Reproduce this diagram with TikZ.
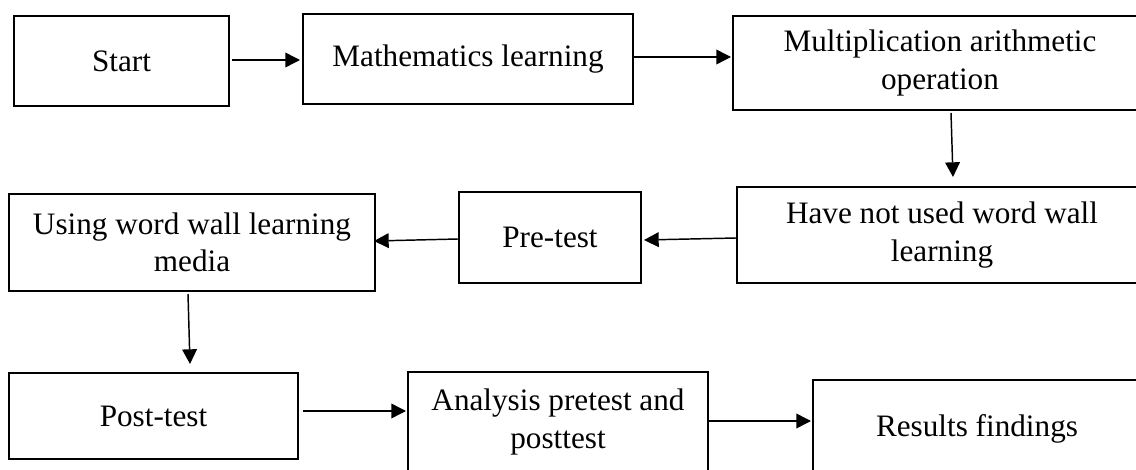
\documentclass[tikz,border=0pt]{standalone}
\usepackage{fontspec}
\setmainfont{Liberation Serif}
\usetikzlibrary{arrows.meta,calc}
\tikzset{
  box/.style={draw=black, line width=1.5pt, fill=white, align=center, inner sep=0pt,
    font=\fontsize{23.4}{28}\selectfont},
  arr/.style={draw=black, line width=1.1pt, -{Triangle[length=11pt,width=11pt]}}
}
\begin{document}
\begin{tikzpicture}[x=0.75pt,y=-0.75pt]
\useasboundingbox (0,0) rectangle (1136,470);
\clip (0,0) rectangle (1136,470);
% row 1
\node[box, minimum width=161pt, minimum height=67.5pt] (start) at (121.5,61) {Start};
\node[box, minimum width=247.5pt, minimum height=67.5pt] (math) at (468,59) {Mathematics learning};
\node[box, minimum width=310.5pt, minimum height=70.5pt] (mult) at (940,63) {Multiplication arithmetic\\operation};
% row 2
\node[box, minimum width=307.5pt, minimum height=72pt] (havenot) at (942,235) {Have not used word wall\\learning};
\node[box, minimum width=136.5pt, minimum height=68.25pt] (pre) at (550,237.5) {Pre-test};
\node[box, minimum width=274.5pt, minimum height=72.75pt] (using) at (192,242.5) {Using word wall learning\\media};
% row 3
\node[box, minimum width=216.75pt, minimum height=64.5pt] (post) at (153.5,416) {Post-test};
\node[box, minimum width=225pt, minimum height=75pt] (analysis) at (558,422) {Analysis pretest and\\posttest};
\node[box, minimum width=246pt, minimum height=73.5pt] (results) at (977,429) {Results findings};
% connectors
\draw[arr] ($(start.east)+(2,-1)$) -- ($(math.west)+(-2,1)$);
\draw[arr] ($(math.east)+(0,-2)$) -- ($(mult.west)+(-1,-6)$);
\draw[arr] ($(mult.south)+(11,2)$) -- ($(havenot.north)+(11,-9)$);
\draw[arr] ($(havenot.west)+(0,3)$) -- ($(pre.east)+(2,2.5)$);
\draw[arr] ($(pre.west)+(0,1.5)$) -- ($(using.west)+(366,-1.5)$);
\draw[arr] ($(using.south)+(-4,2)$) -- ($(post.north)+(36.5,-8)$);
\draw[arr] ($(post.east)+(4,-5)$) -- ($(analysis.west)+(-1,-11)$);
\draw[arr] ($(analysis.east)+(0,-1)$) -- ($(results.west)+(-1,-8)$);
\end{tikzpicture}
\end{document}
